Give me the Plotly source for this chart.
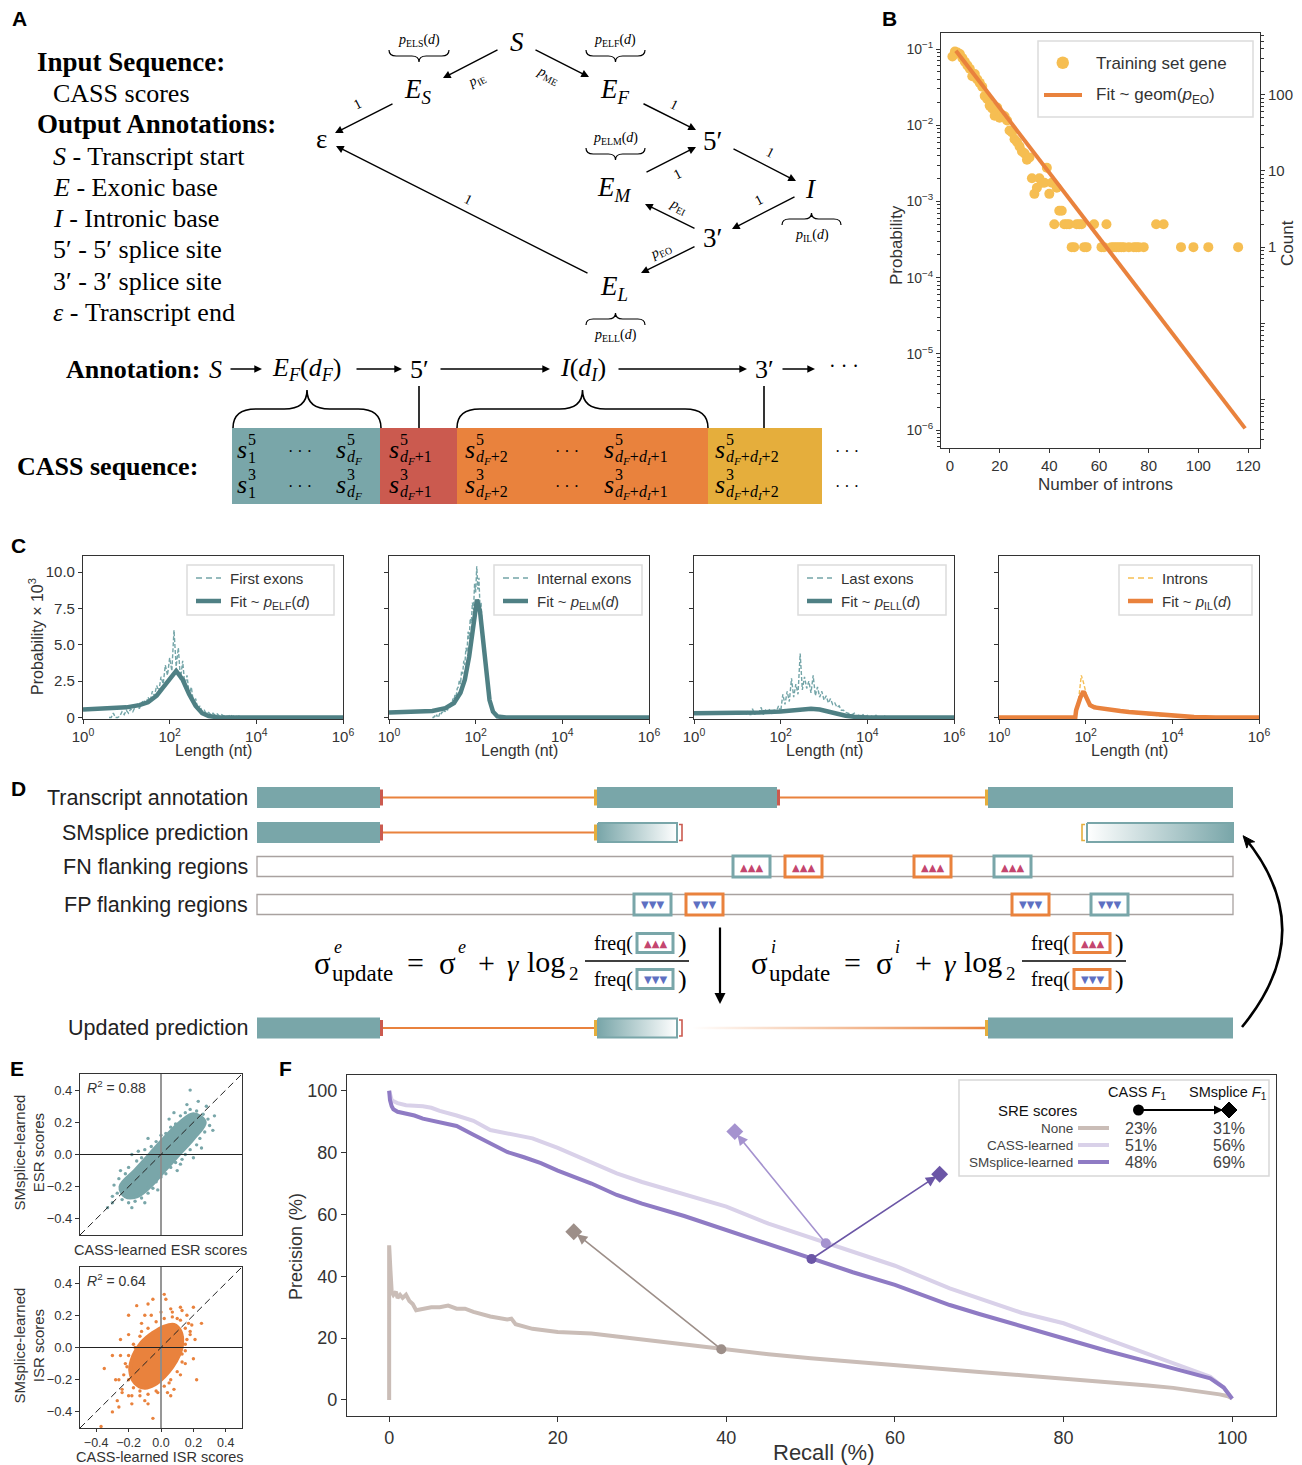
import numpy as np
import plotly.graph_objects as go

W, H = 1302, 1465
SANS = "Liberation Sans"
SERIF = "Liberation Serif"
INK = "#333333"
TEAL = "#79A6A9"
TEAL_DK = "#4F8084"
TEAL_H = "#74A5A8"
RED = "#CB5A4F"
ORANGE = "#E9823D"
YELLOW = "#E5AE3C"
GOLD = "#F6BE52"
MAGENTA = "#C4466F"
BLUE = "#5E70C2"

# ======================= DATA =======================
# ---- Panel B: number of introns per training gene ----
b_introns = [1,2,3,4,5,6,7,8,9,10,11,12,13,14,15,16,17,18,19,20,21,22,23,24,25,26,27,28,29,30,
             31,32,33,34,35,36,37,38,39,40,41,42,43,44,45,46,47,48,49,50,51,52,53,54,55,
             58,61,62,63,65,66,67,68,69,70,72,74,75,76,78,83,86,93,98,104,116]
b_counts = [318,370,358,342,303,271,243,219,175,187, 159,143,127,96,88,72,66,53,68,50,
            54,52,46,34,32,26,24,21,18,17, 14,15,8,5,6,8,7,7,11,5,
            7,2,6,3,3,2,2,2,1,1, 2,2,2,1,1,
            2,1,1,2,1,1,1,1,1,1, 1,1,1,1,1, 2,2,1,1,1,1]
b_total_genes = 3981
b_fit_introns = [2.4, 118.8]
b_fit_prob = [0.095, 1.05e-6]

# ---- Panel C: length distributions (log10 length bins, probability x 1e3) ----
c_names = ["First exons", "Internal exons", "Last exons", "Introns"]
c_fit_sub = ["ELF", "ELM", "ELL", "IL"]
c1_hist_start, c1_hist_step = 0.60, 0.05
c1_hist_y = [0,0,0.3,0,0,0.1,0.4,0.2,0.5,0.3, 0.6,0.4,0.7,0.9,0.6,1.0,1.2,0.9,1.4,1.1,
             1.8,1.5,2.2,1.8,2.8,2.3,3.6,2.9,4.1,3.2, 6.0,3.5,4.8,2.6,3.9,2.2,2.9,1.6,2.1,1.0,
             1.3,0.6,0.8,0.4,0.5,0.25,0.35,0.2,0.3,0.15, 0.25,0.1,0.2,0.1,0.15,0.05,0.2,0.05,0.15,0.05,
             0.1,0,0.05,0,0,0,0]
c2_hist_start, c2_hist_step = 1.00, 0.025
c2_hist_y = [0,0,0.1,0,0.2,0,0.1,0.3,0.2,0.4, 0.3,0.5,0.4,0.6,0.5,0.8,0.7,1.0,0.9,1.3,
             1.2,1.6,1.5,2.0,2.1,2.6,2.3,3.2,3.0,3.9, 3.6,4.8,4.5,5.9,5.4,6.8,6.5,7.9,7.4,9.2,
             8.6,10.4,8.8,9.6,7.6,7.9,6.0,5.6,4.3,3.8, 2.7,2.3,1.5,1.1,0.8,0.5,0.35,0.2,0.15,0.1,
             0.05,0.02,0,0,0]
c3_hist_start, c3_hist_step = 1.20, 0.05
c3_hist_y = [0.2,0.5,0.1,0.6,0.2,0.4,0.3,0.7,0.2,0.5, 0.3,0.6,0.3,0.5,0.4,0.8,0.4,1.6,0.9,1.8,
             1.1,2.7,1.4,2.3,1.6,4.4,1.9,2.8,2.0,2.5, 1.7,2.9,1.5,2.1,1.4,1.8,1.2,1.5,1.0,1.3,
             0.9,1.0,0.7,0.8,0.5,0.5,0.35,0.3,0.25,0.2, 0.3,0.1,0.15,0.05,0.2,0.05,0.15,0,0.1,0,
             0.15,0,0.05,0,0.1,0,0,0,0]
c4_hist_start, c4_hist_step = 1.75, 0.05
c4_hist_y = [0,0.4,1.6,2.9,2.4,1.7,1.2,1.0,0.85,0.88, 0.74,0.72,0.64,0.66,0.58,0.57,0.52,0.51,0.47,0.47,
             0.43,0.42,0.39,0.38,0.35,0.34,0.31,0.31,0.28,0.27, 0.25,0.23,0.22,0.21,0.19,0.17,0.16,0.15,0.13,0.12,
             0.11,0.1,0.09,0.08,0.07,0.06,0.055,0.05,0.04,0.035, 0.03,0.025,0.02,0.02,0.015,0.01,0.01,0.005,
             0,0,0,0,0,0,0,0]
c1_fit_lx = [0,0.5,1.0,1.3,1.5,1.7,1.85,2.0,2.15,2.3,2.45,2.6,2.75,2.9,3.1,3.5,4,5,6]
c1_fit_y = [0.55,0.6,0.7,0.85,1.05,1.5,2.1,2.7,3.2,2.6,1.6,0.8,0.3,0.1,0.02,0,0,0,0]
c2_fit_lx = [0,0.5,1,1.3,1.5,1.65,1.75,1.85,1.95,2.03,2.1,2.18,2.25,2.32,2.4,2.5,2.7,3,6]
c2_fit_y = [0.35,0.38,0.45,0.65,1.0,1.7,2.6,4.2,6.5,8.1,7.3,4.8,2.7,1.2,0.4,0.08,0,0,0]
c3_fit_lx = [0,1,1.5,2,2.3,2.5,2.7,2.9,3.1,3.3,3.5,3.7,4,5,6]
c3_fit_y = [0.3,0.32,0.35,0.42,0.5,0.57,0.6,0.55,0.4,0.24,0.12,0.05,0.01,0,0]
c4_fit_lx = [0,1.76,1.78,1.82,1.88,1.95,2.0,2.05,2.1,2.2,2.4,2.6,2.8,3.0,3.3,3.6,4.0,4.5,5.0,6.0]
c4_fit_y = [0,0,0.5,0.9,1.4,1.8,1.5,1.1,0.85,0.7,0.6,0.52,0.45,0.38,0.3,0.2,0.1,0.03,0.005,0]

# ---- Panel E: learned SRE scores (dense core outline + individual points) ----
e1_core_x = [-0.22,-0.25,-0.16,-0.07,0.02,0.12,0.2,0.27,0.2,0.11,0.02,-0.07,-0.15]
e1_core_y = [-0.26,-0.2,-0.1,0.0,0.1,0.2,0.25,0.2,0.1,0.0,-0.1,-0.2,-0.26]
e1_pts_x = [-0.27,-0.29,-0.26,-0.22,-0.2,-0.15,-0.12,-0.1,-0.06,-0.03,0.0,0.03,0.06,0.09,0.12,0.15,0.18,0.22,0.26,0.29,
            0.3,0.27,0.24,0.22,0.18,0.15,0.13,0.09,0.06,0.03,0.0,-0.03,-0.05,-0.08,-0.12,-0.16,-0.2,-0.24,-0.33,-0.3,
            -0.18,0.18,0.23,0.33,0.32,0.2,0.1,-0.08,-0.18,0.05,-0.1,0.28,-0.02,0.16,-0.25,0.25,-0.14,0.08,-0.3,0.12]
e1_pts_y = [-0.24,-0.19,-0.15,-0.12,-0.08,-0.04,-0.02,0.03,0.05,0.08,0.12,0.13,0.17,0.19,0.24,0.26,0.28,0.27,0.25,0.22,
            0.18,0.14,0.1,0.06,0.03,0.0,-0.03,-0.05,-0.08,-0.12,-0.14,-0.17,-0.21,-0.24,-0.27,-0.29,-0.3,-0.28,-0.33,-0.26,
            -0.33,0.4,0.33,0.24,0.15,-0.02,-0.1,0.1,0.0,0.22,-0.3,0.3,-0.22,0.31,-0.1,0.04,0.02,0.26,-0.3,-0.06]
e2_core_x = [-0.16,-0.19,-0.17,-0.12,-0.05,0.02,0.08,0.12,0.13,0.11,0.07,0.02,-0.04,-0.1]
e2_core_y = [-0.22,-0.14,-0.05,0.03,0.09,0.13,0.14,0.1,0.02,-0.05,-0.12,-0.18,-0.23,-0.25]
e2_pts_x = [-0.37,-0.3,-0.26,-0.24,-0.28,-0.2,-0.18,-0.05,-0.13,-0.08,0.05,0.12,0.22,0.2,0.18,
            0.25,0.16,0.2,0.12,0.02,-0.05,0.03,-0.15,-0.2,-0.1,-0.25,-0.3,-0.35,-0.22,0.15,
            0.07,-0.12,0.15,0.17,-0.02,0.08,-0.18,0.1,0.13,-0.27,0.0,-0.08,0.21,-0.16,0.06,
            -0.2,-0.21,-0.2,-0.17,-0.13,-0.08,-0.03,0.02,0.07,0.12,0.15,0.16,0.15,0.13,0.1,
            0.06,0.02,-0.03,-0.08,-0.13,-0.17,-0.23,-0.18,-0.24,-0.26,-0.1,0.04,0.18,0.19,0.13,
            0.06,-0.06,-0.12,-0.2,-0.25]
e2_pts_y = [-0.49,-0.4,-0.37,-0.28,-0.2,-0.3,-0.35,-0.44,-0.3,-0.35,-0.22,-0.17,-0.2,-0.07,0.1,
            0.15,0.2,0.25,0.25,0.33,0.3,0.3,0.26,0.2,0.2,0.05,-0.05,-0.13,-0.1,-0.1,
            0.22,0.1,0.02,0.15,-0.28,-0.26,-0.15,0.18,-0.04,-0.33,0.22,0.27,0.05,0.0,-0.3,
            -0.2,-0.12,-0.05,0.02,0.07,0.12,0.16,0.18,0.19,0.17,0.12,0.05,-0.02,-0.09,-0.15,
            -0.2,-0.24,-0.27,-0.29,-0.27,-0.25,-0.17,-0.3,-0.26,-0.2,-0.33,-0.28,0.08,0.14,0.23,
            0.24,0.2,0.15,0.08,-0.05]
e_r2 = ["0.88", "0.64"]

# ---- Panel F: precision-recall curves ----
f_none_recall = [0,0,0.15,0.3,0.5,0.8,1.0,1.3,1.6,2.0,2.4,2.8,3.2,4,5,6,7,8,9,10,12,14,14.5,15,17,20,24,27,30,33,
                 36,40,45,50,55,60,65,70,75,80,85,90,93,95,97,98.5,99.5,100]
f_none_prec = [0,50,42,35,34,35,33,34,33,34,32,31,29,29.5,30,30,30.5,29.5,29.5,28.5,27,26,26.3,24.5,23,22,21.5,20.5,19.5,18.5,
               17.5,16.2,14.8,13.5,12.3,11.1,10.1,9.0,8.0,7.0,5.9,4.7,3.9,3.2,2.4,1.8,1.2,0.5]
f_cass_recall = [0,0.1,0.3,0.6,1,2,3,4,5,6,8,10,12,15,17,20,23.5,27,30,35,40,45,51.8,56,60,66.5,70,75,80,85,90,93,95,97.4,99,100]
f_cass_prec = [100,99,97,96.5,96,95.3,95.2,95,94.5,93.5,92,90.3,87.3,85.8,84.6,81.5,77.5,73.3,70.5,66.5,
               62.5,57,50.7,47,43.4,36.1,32.8,28.2,24.8,19.8,14.8,11.9,9.9,7.5,4.0,0.4]
f_sms_recall = [0,0.1,0.3,0.5,1,2,3,4,6,8,10,12,14,16,18,20,24,27,30,35,40,45,50.1,55,60,66.5,70,75,80,85,90,93,95,97.4,99,100]
f_sms_prec = [100,97,95,94,93.2,92.6,92,91,89.7,88.6,85.8,83,80.2,78.5,76.6,74.2,70,66.3,63.5,59.5,
              55,50.5,45.6,41.3,37.2,30.7,27.8,23.8,19.7,16.0,12.4,10.2,8.8,7.0,4.0,0.4]
f_series = ["None", "CASS-learned", "SMsplice-learned"]
f_cass_pt_recall = [39.4, 51.8, 50.1]
f_cass_pt_prec = [16.4, 50.7, 45.6]
f_sms_pt_recall = [21.9, 41.0, 65.3]
f_sms_pt_prec = [54.4, 86.8, 73.0]
f_cass_f1 = ["23%", "51%", "48%"]
f_sms_f1 = ["31%", "56%", "69%"]
f_line_col = ["#CABDB7", "#D9D1E9", "#8F7BC4"]
f_pt_col = ["#9D8F89", "#A593CF", "#6B56A6"]

# ======================= SCHEMATIC LAYOUT (pixel frame) =======================
a_nodes = [(517, 42, "<i>S</i>"), (418, 91, "<i>E</i><sub><i>S</i></sub>"), (615, 91, "<i>E</i><sub><i>F</i></sub>"),
           (321, 139, "ε"), (712, 141, "5′"), (614, 189, "<i>E</i><sub><i>M</i></sub>"), (811, 189, "<i>I</i>"),
           (712, 238, "3′"), (614, 288, "<i>E</i><sub><i>L</i></sub>")]
a_edges = [((499,49),(443,78),"<i>p</i><sub>IE</sub>",(476,80)),
           ((534,49),(589,77),"<i>p</i><sub>ME</sub>",(548,75)),
           ((394,103),(335,133),"1",(357,104)),
           ((642,103),(696,130),"1",(674,104)),
           ((645,173),(696,147),"1",(677,174)),
           ((732,148),(796,181),"1",(770,152)),
           ((796,196),(732,229),"1",(758,200)),
           ((696,229),(645,204),"<i>p</i><sub>EI</sub>",(678,206)),
           ((696,246),(641,273),"<i>p</i><sub>EO</sub>",(660,251)),
           ((589,274),(336,146),"1",(468,199))]
a_braces = [(389,449,50,62,"ELS",419,40), (586,645,50,62,"ELF",615,40), (586,645,148,160,"ELM",615,138),
            (782,841,225,213,"IL",812,235), (586,645,325,313,"ELL",615,335)]

fig = go.Figure()
shapes, ann = [], []


def T(x, y, text, size=14, color=INK, family=SANS, xa="center", ya="middle", angle=0, xref="x", yref="y"):
    ann.append(dict(x=x, y=y, xref=xref, yref=yref, text=text, showarrow=False,
                    font=dict(family=family, size=size, color=color),
                    xanchor=xa, yanchor=ya, textangle=angle, borderpad=0))


def LN(x0, y0, x1, y1, color=INK, w=1.0, dash=None, xref="x", yref="y"):
    shapes.append(dict(type="line", xref=xref, yref=yref, x0=x0, y0=y0, x1=x1, y1=y1,
                       line=dict(color=color, width=w, dash=dash), layer="above"))


def RC(x0, y0, x1, y1, fill="rgba(0,0,0,0)", color=None, w=0):
    shapes.append(dict(type="rect", xref="x", yref="y", x0=x0, y0=y0, x1=x1, y1=y1,
                       fillcolor=fill, line=dict(color=color or "rgba(0,0,0,0)", width=w), layer="above"))


def PATH(d, color=INK, w=1.2, fill=None):
    shapes.append(dict(type="path", xref="x", yref="y", path=d, line=dict(color=color, width=w),
                       fillcolor=fill or "rgba(0,0,0,0)", layer="above"))


def ARROW(x0, y0, x1, y1, color="black", w=1.3, head=2, size=1.2, xref="x", yref="y", standoff=0):
    ann.append(dict(x=x1, y=y1, ax=x0, ay=y0, xref=xref, yref=yref, axref=xref, ayref=yref, text="",
                    showarrow=True, arrowhead=head, arrowsize=size, arrowwidth=w, arrowcolor=color,
                    standoff=standoff))


def BRACE(x0, x1, y_end, y_tip, w=1.3):
    xm = (x0 + x1) / 2
    ym = (y_end + y_tip) / 2
    r = min((x1 - x0) / 4, abs(y_tip - y_end) * 0.6)
    d = (f"M{x0},{y_end} Q{x0},{ym} {x0 + r},{ym} L{xm - r},{ym} Q{xm},{ym} {xm},{y_tip} "
         f"Q{xm},{ym} {xm + r},{ym} L{x1 - r},{ym} Q{x1},{ym} {x1},{y_end}")
    PATH(d, "black", w)


# ---------------- panel letters ----------------
for lt, lx, ly in [("A", 19, 18), ("B", 889, 18), ("C", 18, 545), ("D", 18, 788), ("E", 17, 1068), ("F", 285, 1068)]:
    T(lx, ly, f"<b>{lt}</b>", 21, "black", SANS)

# ---------------- Panel A ----------------
T(36, 62, "<b>Input Sequence:</b>", 27, "black", SERIF, xa="left")
T(52, 93, "CASS scores", 26, "black", SERIF, xa="left")
T(36, 124, "<b>Output Annotations:</b>", 27, "black", SERIF, xa="left")
a_key_lines = ["<i>S</i> - Transcript start", "<i>E</i> - Exonic base", "<i>I</i> - Intronic base",
               "5′ - 5′ splice site", "3′ - 3′ splice site", "<i>ε</i> - Transcript end"]
a_key_y = [156, 187, 218, 249, 281, 312]
for s, yy in zip(a_key_lines, a_key_y):
    T(52, yy, s, 26, "black", SERIF, xa="left")

for x, y, s in a_nodes:
    T(x, y, s, 27, "black", SERIF)
for (p0, p1, lab, lp) in a_edges:
    ARROW(p0[0], p0[1], p1[0], p1[1], "black", 1.4, 2, 1.1)
    ang = np.degrees(np.arctan2(p1[1] - p0[1], p1[0] - p0[0]))
    if ang > 90:
        ang -= 180
    if ang < -90:
        ang += 180
    T(lp[0], lp[1], lab, 14, "black", SERIF, angle=ang)
for (x0, x1, ye, yt, sub, lx, ly) in a_braces:
    BRACE(x0, x1, ye, yt, 1.2)
    T(lx, ly, f"<i>p</i><sub>{sub}</sub>(<i>d</i>)", 14, "black", SERIF)

# Annotation row
T(201, 369, "<b>Annotation:</b>", 26, "black", SERIF, xa="right")
T(215, 369, "<i>S</i>", 26, "black", SERIF)
T(306, 369, "<i>E</i><sub><i>F</i></sub>(<i>d</i><sub><i>F</i></sub>)", 26, "black", SERIF)
T(419, 369, "5′", 26, "black", SERIF)
T(583, 369, "<i>I</i>(<i>d</i><sub><i>I</i></sub>)", 26, "black", SERIF)
T(764, 369, "3′", 26, "black", SERIF)
T(844, 366, "· · ·", 20, "black", SERIF)
for x0, x1 in [(229, 262), (355, 402), (439, 550), (617, 747), (781, 815)]:
    ARROW(x0, 369, x1, 369, "black", 1.4, 2, 1.1)
BRACE(233, 381, 428, 390, 1.6)
BRACE(457, 708, 428, 390, 1.6)
LN(419, 386, 419, 428, "black", 1.6)
LN(764, 386, 764, 428, "black", 1.6)

# CASS cells
for x0, x1, col in [(232, 380, TEAL), (380, 457, RED), (457, 708, ORANGE), (708, 822, YELLOW)]:
    RC(x0, 428, x1, 504, fill=col)
T(199, 466, "<b>CASS sequence:</b>", 26, "black", SERIF, xa="right")


def s_term(x, y, sup, sub):
    T(x, y, "<i>s</i>", 26, "black", SERIF, xa="left")
    T(x + 11, y - 10, sup, 16, "black", SERIF, xa="left")
    T(x + 11, y + 8, sub, 16, "black", SERIF, xa="left")


dF = "<i>d</i><sub><i>F</i></sub>"
dI = "<i>d</i><sub><i>I</i></sub>"
for row_y, sup in [(449, "5"), (484, "3")]:
    s_term(236, row_y, sup, "1")
    T(300, row_y + 2, "· · ·", 16, "black", SERIF)
    s_term(335, row_y, sup, dF)
    s_term(388, row_y, sup, dF + "+1")
    s_term(464, row_y, sup, dF + "+2")
    T(567, row_y + 2, "· · ·", 16, "black", SERIF)
    s_term(603, row_y, sup, dF + "+" + dI + "+1")
    s_term(714, row_y, sup, dF + "+" + dI + "+2")
    T(847, row_y + 2, "· · ·", 16, "black", SERIF)

# ---------------- Panel D ----------------
d_row_y = [797.5, 832.5, 866.5, 904.5, 1028]
d_row_labels = ["Transcript annotation", "SMsplice prediction", "FN flanking regions", "FP flanking regions", "Updated prediction"]
d_exon_h = 21
for lab, yy in zip(d_row_labels, d_row_y):
    T(249, yy, lab, 21.5, "#222222", SANS, xa="right")


def exon(x0, x1, yc):
    RC(x0, yc - d_exon_h / 2, x1, yc + d_exon_h / 2, fill=TEAL)


def intron(x0, x1, yc):
    LN(x0, yc, x1, yc, ORANGE, 2.2)


def donor(x, yc):
    RC(x, yc - 8, x + 3, yc + 8, fill=RED)


def acceptor(x, yc):
    RC(x - 3, yc - 8, x, yc + 8, fill=YELLOW)


def grad_box(x0, x1, yc, c_left, c_right, outline=TEAL, h=None, lw=2):
    h = h or d_exon_h
    y0, y1 = yc - h / 2, yc + h / 2
    fig.add_trace(go.Scatter(x=[x0, x1, x1, x0, x0], y=[y0, y0, y1, y1, y0], xaxis="x", yaxis="y",
                             mode="lines", fill="toself",
                             fillgradient=dict(type="horizontal", colorscale=[[0, c_left], [1, c_right]]),
                             line=dict(color=outline, width=lw), hoverinfo="skip", showlegend=False))


def bracket(x, yc, col, side):
    s = 3 if side == "right" else -3
    PATH(f"M{x},{yc - 8} L{x + s},{yc - 8} L{x + s},{yc + 8} L{x},{yc + 8}", col, 1.6)


# row 1: annotation
y1 = d_row_y[0]
exon(257, 380, y1); donor(380, y1); intron(383, 594, y1); acceptor(597, y1)
exon(597, 777, y1); donor(777, y1); intron(780, 985, y1); acceptor(988, y1); exon(988, 1233, y1)
# row 2: prediction
y2 = d_row_y[1]
exon(257, 380, y2); donor(380, y2); intron(383, 594, y2); acceptor(597, y2)
grad_box(598, 677, y2, TEAL, "white", h=d_exon_h - 2)
bracket(679, y2, RED, "right")
bracket(1085, y2, YELLOW, "left")
grad_box(1087, 1233, y2, "white", TEAL, h=d_exon_h - 2)
# rows 3,4: flanking regions
d_fn_boxes = [(733, TEAL), (785, ORANGE), (914, ORANGE), (994, TEAL)]
d_fp_boxes = [(634, TEAL), (686, ORANGE), (1012, ORANGE), (1091, TEAL)]


def motif_box(x0, yc, col, up, w=37, h=21):
    RC(x0, yc - h / 2, x0 + w, yc + h / 2, fill="white", color=col, w=3)
    T(x0 + w / 2, yc + (0.5 if up else 0), "▲▲▲" if up else "▼▼▼", 10, MAGENTA if up else BLUE, "DejaVu Sans")


for yy, boxes, up in [(d_row_y[2], d_fn_boxes, True), (d_row_y[3], d_fp_boxes, False)]:
    RC(257, yy - 10, 1233, yy + 10, fill="white", color="#A9A2A0", w=1.3)
    for bx, col in boxes:
        motif_box(bx, yy, col, up)
# row 5: updated prediction
y5 = d_row_y[4]
exon(257, 380, y5); donor(380, y5); intron(383, 594, y5); acceptor(597, y5)
grad_box(598, 677, y5, TEAL, "white", h=d_exon_h - 2)
bracket(679, y5, RED, "right")
fig.add_trace(go.Scatter(x=[692, 986, 986, 692, 692], y=[y5 - 1.3, y5 - 1.3, y5 + 1.3, y5 + 1.3, y5 - 1.3],
                         xaxis="x", yaxis="y", mode="lines", fill="toself",
                         fillgradient=dict(type="horizontal", colorscale=[[0, "rgba(233,130,61,0)"], [1, ORANGE]]),
                         line=dict(width=0, color="rgba(0,0,0,0)"), hoverinfo="skip", showlegend=False))
acceptor(988, y5); exon(988, 1233, y5)

# update formulas
for dx, letter, bcol in [(0, "e", TEAL), (437, "i", ORANGE)]:
    T(322 + dx, 963, "σ", 31, "black", SERIF)
    T(333 + dx, 947, f"<i>{letter}</i>", 18, "black", SERIF, xa="left")
    T(331 + dx, 973, "update", 23, "black", SERIF, xa="left")
    T(415 + dx, 962, "=", 30, "black", SERIF)
    T(447 + dx, 963, "σ", 31, "black", SERIF)
    T(457 + dx, 947, f"<i>{letter}</i>", 18, "black", SERIF, xa="left")
    T(486 + dx, 962, "+", 30, "black", SERIF)
    T(513 + dx, 965, "<i>γ</i>", 29, "black", SERIF)
    T(526 + dx, 961, "log", 30, "black", SERIF, xa="left")
    T(568 + dx, 973, "2", 19, "black", SERIF, xa="left")
    LN(585 + dx, 961, 689 + dx, 961, "black", 1.3)
    for yy, up in [(943, True), (979, False)]:
        T(634 + dx, yy, "freq(", 20, "black", SERIF, xa="right")
        motif_box(637 + dx, yy, bcol, up, w=36, h=19)
        T(682 + dx, yy, ")", 26, "black", SERIF)

ARROW(720, 926, 720, 1004, "black", 2.2, 2, 1.0)
# curved feedback arrow
cx0, cy0, qx, qy, cx1, cy1 = 1242, 1027, 1321, 931, 1245, 838
PATH(f"M{cx0},{cy0} Q{qx},{qy} {cx1},{cy1}", "black", 2.6)
dvec = np.array([cx1 - qx, cy1 - qy], float)
dvec /= np.linalg.norm(dvec)
nvec = np.array([-dvec[1], dvec[0]])
tip = np.array([cx1, cy1]) + dvec * 3
base = np.array([cx1, cy1]) - dvec * 9
p1 = base + nvec * 5
p2 = base - nvec * 5
PATH(f"M{tip[0]:.1f},{tip[1]:.1f} L{p1[0]:.1f},{p1[1]:.1f} L{base[0] + dvec[0] * 3:.1f},{base[1] + dvec[1] * 3:.1f} L{p2[0]:.1f},{p2[1]:.1f} Z",
     "black", 1, fill="black")

# ======================= DATA PLOTS =======================
layout = dict(width=W, height=H, margin=dict(l=0, r=0, t=0, b=0, pad=0, autoexpand=False), paper_bgcolor="white",
              plot_bgcolor="rgba(0,0,0,0)", showlegend=False, font=dict(family=SANS, color=INK))
layout["xaxis"] = dict(domain=[0, 1], range=[0, W], visible=False, fixedrange=True, automargin=False)
layout["yaxis"] = dict(domain=[0, 1], range=[H, 0], visible=False, fixedrange=True, automargin=False)


def dx_(l, r):
    return [l / W, r / W]


def dy_(t, b):
    return [1 - b / H, 1 - t / H]


def ax_style(**kw):
    d = dict(showline=True, linecolor=INK, linewidth=1.1, mirror=True, ticks="outside", ticklen=4,
             tickwidth=1, tickcolor=INK, showgrid=False, zeroline=False, fixedrange=True, automargin=False,
             tickfont=dict(family=SANS, size=14, color=INK))
    d.update(kw)
    return d


# ---------------- Panel B ----------------
b_prob = [c / b_total_genes for c in b_counts]
fig.add_trace(go.Scatter(x=b_introns, y=b_prob, xaxis="x2", yaxis="y2", mode="markers",
                         marker=dict(color=GOLD, size=10, line=dict(width=0)), hoverinfo="skip"))
fig.add_trace(go.Scatter(x=b_fit_introns, y=b_fit_prob, xaxis="x2", yaxis="y2", mode="lines",
                         line=dict(color=ORANGE, width=4), hoverinfo="skip"))
fig.add_trace(go.Scatter(x=b_introns, y=b_counts, xaxis="x2", yaxis="y3", mode="markers",
                         marker=dict(opacity=0, size=1), hoverinfo="skip"))
minor_log = lambda lo, hi: [k * 10.0 ** d for d in range(lo, hi + 1) for k in range(2, 10)]
layout["xaxis2"] = ax_style(domain=dx_(941, 1260), range=[-3.6, 124.8], anchor="y2",
                            tickvals=[0, 20, 40, 60, 80, 100, 120], tickfont=dict(family=SANS, size=15, color=INK))
layout["yaxis2"] = ax_style(domain=dy_(33, 448), type="log", range=[-6.236, -0.79], anchor="x2",
                            tickvals=[1e-6, 1e-5, 1e-4, 1e-3, 1e-2, 1e-1],
                            ticktext=[f"10<sup>−{k}</sup>" for k in [6, 5, 4, 3, 2, 1]],
                            minor=dict(tickmode="array", tickvals=minor_log(-7, -1), ticks="outside", ticklen=2.5,
                                       tickcolor=INK))
layout["yaxis3"] = dict(overlaying="y2", anchor="x2", side="right", type="log", range=[-2.636, 2.81],
                        showline=False, showgrid=False, zeroline=False, ticks="outside", ticklen=4, tickcolor=INK,
                        tickvals=[0.01, 0.1, 1, 10, 100], ticktext=["", "", "1", "10", "100"], automargin=False,
                        tickfont=dict(family=SANS, size=15, color=INK), fixedrange=True,
                        minor=dict(tickmode="array", tickvals=minor_log(-3, 2), ticks="outside", ticklen=2.5,
                                   tickcolor=INK))
T(1105, 484, "Number of introns", 17)
T(896, 245, "Probability", 17, angle=-90)
T(1287, 243, "Count", 17, angle=-90)
RC(1038, 41, 1253, 117, fill="white", color="#DCDCDC", w=1.5)
shapes.append(dict(type="circle", xref="x", yref="y", x0=1056.5, x1=1069, y0=56.5, y1=69,
                   fillcolor=GOLD, line=dict(width=0), layer="above"))
T(1095, 63, "Training set gene", 17, xa="left")
LN(1044, 95, 1082, 95, ORANGE, 4)
T(1095, 96, "Fit ~ geom(<i>p</i><sub>EO</sub>)", 17, xa="left")

# ---------------- Panel C ----------------
c_lefts = [83, 389, 694, 999]
c_width = 260
c_hist = [(c1_hist_start, c1_hist_step, c1_hist_y), (c2_hist_start, c2_hist_step, c2_hist_y),
          (c3_hist_start, c3_hist_step, c3_hist_y), (c4_hist_start, c4_hist_step, c4_hist_y)]
c_fit = [(c1_fit_lx, c1_fit_y), (c2_fit_lx, c2_fit_y), (c3_fit_lx, c3_fit_y), (c4_fit_lx, c4_fit_y)]
c_hist_col = [TEAL_H, TEAL_H, TEAL_H, GOLD]
c_fit_col = [TEAL_DK, TEAL_DK, TEAL_DK, ORANGE]
c_leg_left = [187, 494, 798, 1119]
c_leg_right = [334, 642, 946, 1252]
for i in range(4):
    xa, ya = f"x{3 + i}", f"y{4 + i}"
    st, sp, hy = c_hist[i]
    hx = 10 ** (st + sp * np.arange(len(hy)))
    fig.add_trace(go.Scatter(x=hx, y=hy, xaxis=xa, yaxis=ya, mode="lines",
                             line=dict(color=c_hist_col[i], width=1.4, dash="4px,2px"), hoverinfo="skip"))
    fx, fy = c_fit[i]
    fig.add_trace(go.Scatter(x=10 ** np.array(fx, float), y=fy, xaxis=xa, yaxis=ya, mode="lines",
                             line=dict(color=c_fit_col[i], width=4.5), hoverinfo="skip"))
    l = c_lefts[i]
    layout[f"xaxis{3 + i}"] = ax_style(domain=dx_(l, l + c_width), type="log", range=[0, 6], anchor=ya,
                                       tickvals=[1, 1e2, 1e4, 1e6],
                                       ticktext=["10<sup>0</sup>", "10<sup>2</sup>", "10<sup>4</sup>", "10<sup>6</sup>"],
                                       tickfont=dict(family=SANS, size=15, color=INK))
    layout[f"yaxis{4 + i}"] = ax_style(domain=dy_(556, 719), range=[-0.1, 11.1], anchor=xa,
                                       tickvals=[0, 2.5, 5, 7.5, 10], ticktext=["0", "2.5", "5.0", "7.5", "10.0"],
                                       showticklabels=(i == 0), tickfont=dict(family=SANS, size=15, color=INK))
    T(l + c_width / 2, 750, "Length (nt)", 16)
    lx0, lx1 = c_leg_left[i], c_leg_right[i]
    RC(lx0, 565, lx1, 615, fill="white", color="#DCDCDC", w=1.5)
    LN(lx0 + 9, 578, lx0 + 34, 578, c_hist_col[i], 1.6, dash="6px,4px")
    LN(lx0 + 9, 601, lx0 + 34, 601, c_fit_col[i], 4.5)
    T(lx0 + 42, 578, c_names[i], 15, xa="left")
    T(lx0 + 42, 602, f"Fit ~ <i>p</i><sub>{c_fit_sub[i]}</sub>(<i>d</i>)", 15, xa="left")
T(36, 637, "Probability × 10<sup>3</sup>", 16, angle=-90)

# ---------------- Panel E ----------------
e_specs = [("x7", "y8", 1074, 1235, e1_core_x, e1_core_y, e1_pts_x, e1_pts_y, TEAL, "ESR", False),
           ("x8", "y9", 1267, 1428, e2_core_x, e2_core_y, e2_pts_x, e2_pts_y, ORANGE, "ISR", True)]
for k, (xa, ya, top, bot, cx, cy, px, py, col, nm, showx) in enumerate(e_specs):
    fig.add_trace(go.Scatter(x=cx + [cx[0]], y=cy + [cy[0]], xaxis=xa, yaxis=ya, mode="lines", fill="toself",
                             fillcolor=col, line=dict(color=col, width=4, shape="spline"), hoverinfo="skip"))
    fig.add_trace(go.Scatter(x=px, y=py, xaxis=xa, yaxis=ya, mode="markers",
                             marker=dict(color=col, size=3.4, line=dict(width=0)), hoverinfo="skip"))
    fig.add_trace(go.Scatter(x=[0, 0], y=[-0.5, 0.5], xaxis=xa, yaxis=ya, mode="lines",
                             line=dict(color="#8C8C8C", width=1.8), hoverinfo="skip"))
    fig.add_trace(go.Scatter(x=[-0.5, 0.5], y=[0, 0], xaxis=xa, yaxis=ya, mode="lines",
                             line=dict(color="#222222", width=1.1), hoverinfo="skip"))
    fig.add_trace(go.Scatter(x=[-0.5, 0.5], y=[-0.5, 0.5], xaxis=xa, yaxis=ya, mode="lines",
                             line=dict(color="#222222", width=1, dash="7px,4px"), hoverinfo="skip"))
    ticks_e = [-0.4, -0.2, 0.0, 0.2, 0.4]
    ticks_t = ["−0.4", "−0.2", "0.0", "0.2", "0.4"]
    layout[f"xaxis{7 + k}"] = ax_style(domain=dx_(80, 242), range=[-0.5, 0.5], anchor=ya, tickvals=ticks_e,
                                       ticktext=ticks_t, showticklabels=showx, ticks="outside" if showx else "",
                                       ticklen=3, tickfont=dict(family=SANS, size=12.5, color=INK))
    layout[f"yaxis{8 + k}"] = ax_style(domain=dy_(top, bot), range=[-0.5, 0.5], anchor=xa, tickvals=ticks_e,
                                       ticktext=ticks_t, tickfont=dict(family=SANS, size=13, color=INK))
    T(86, top + 13, f"<i>R</i><sup>2</sup> = {e_r2[k]}", 14, xa="left")
    T(29, (top + bot) / 2 - 2, f"SMsplice-learned<br>{nm} scores", 15, angle=-90)
    T(160, bot + (29 if showx else 15), f"CASS-learned {nm} scores", 14.5)

# ---------------- Panel F ----------------
for rx, ry, lc in [(f_none_recall, f_none_prec, f_line_col[0]), (f_cass_recall, f_cass_prec, f_line_col[1]),
                   (f_sms_recall, f_sms_prec, f_line_col[2])]:
    fig.add_trace(go.Scatter(x=rx, y=ry, xaxis="x9", yaxis="y10", mode="lines",
                             line=dict(color=lc, width=4), hoverinfo="skip"))
for i in range(3):
    ARROW(f_cass_pt_recall[i], f_cass_pt_prec[i], f_sms_pt_recall[i], f_sms_pt_prec[i],
          f_pt_col[i], 1.6, 2, 1.3, xref="x9", yref="y10", standoff=4)
fig.add_trace(go.Scatter(x=f_cass_pt_recall, y=f_cass_pt_prec, xaxis="x9", yaxis="y10", mode="markers",
                         marker=dict(color=f_pt_col, size=10, symbol="circle"), hoverinfo="skip"))
fig.add_trace(go.Scatter(x=f_sms_pt_recall, y=f_sms_pt_prec, xaxis="x9", yaxis="y10", mode="markers",
                         marker=dict(color=f_pt_col, size=13, symbol="diamond"), hoverinfo="skip"))
layout["xaxis9"] = ax_style(domain=dx_(347, 1276), range=[-5, 105.2], anchor="y10",
                            tickvals=[0, 20, 40, 60, 80, 100], ticklen=5,
                            tickfont=dict(family=SANS, size=18, color=INK))
layout["yaxis10"] = ax_style(domain=dy_(1075, 1416), range=[-5.2, 105.1], anchor="x9",
                             tickvals=[0, 20, 40, 60, 80, 100], ticklen=5,
                             tickfont=dict(family=SANS, size=18, color=INK))
T(823, 1452, "Recall (%)", 22)
T(296, 1247, "Precision (%)", 18, angle=-90)
# legend
RC(959, 1080, 1269, 1176, fill="white", color="#D8D8D8", w=1.5)
T(1137, 1093, "CASS <i>F</i><sub>1</sub>", 14.5, "#111111")
T(1228, 1093, "SMsplice <i>F</i><sub>1</sub>", 14.5, "#111111")
T(1037, 1110, "SRE scores", 15, "#111111")
ARROW(1140, 1110, 1223, 1110, "black", 1.8, 2, 1.0)
shapes.append(dict(type="circle", xref="x", yref="y", x0=1133, x1=1144, y0=1104.5, y1=1115.5,
                   fillcolor="black", line=dict(width=0), layer="above"))
PATH("M1229,1102 L1237,1110 L1229,1118 L1221,1110 Z", "black", 1, fill="black")
for i, yy in enumerate([1128, 1145, 1162]):
    T(1074, yy, f_series[i], 13.5, "#444444", xa="right")
    LN(1078, yy, 1109, yy, f_line_col[i], 4)
    T(1141, yy, f_cass_f1[i], 16, "#444444")
    T(1229, yy, f_sms_f1[i], 16, "#444444")

layout["shapes"] = shapes
layout["annotations"] = ann
fig.update_layout(**layout)
fig.write_html("out.html", config={"displayModeBar": False},
               post_script="document.body.style.margin='0px';document.body.style.overflow='hidden';")
